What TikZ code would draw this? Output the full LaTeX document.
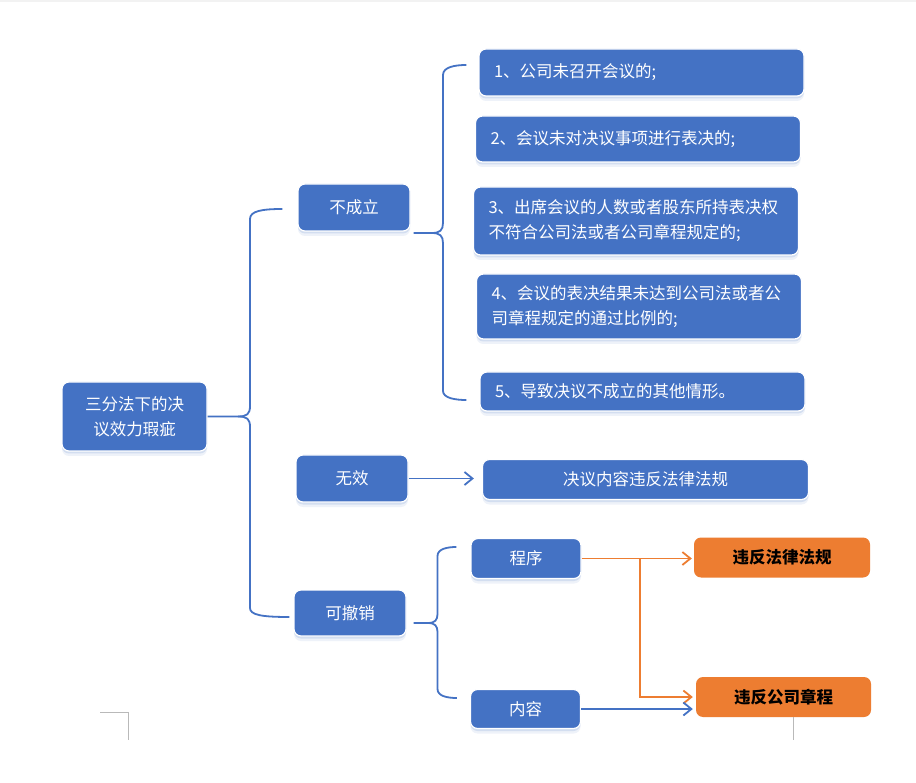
\documentclass[tikz,border=0pt]{standalone}
\usepackage{fontspec}
\setmainfont{Noto Sans CJK SC}
\usetikzlibrary{calc,arrows.meta,shadows}
\definecolor{boxblue}{HTML}{4472C4}
\definecolor{boxorange}{HTML}{ED7D31}
\definecolor{lineblue}{HTML}{4472C4}
\begin{document}
\begin{tikzpicture}[x=1pt,y=-1pt,
  glow/.style={drop shadow={shadow xshift=0pt,shadow yshift=-5pt,fill=boxblue!30,opacity=.3},
               drop shadow={shadow xshift=0pt,shadow yshift=-2.5pt,fill=boxblue!45,opacity=.4}},
  bbox/.style={glow, fill=boxblue, draw=white, line width=1.2pt, rounded corners=7pt,
               text=white, font=\fontsize{16.5}{25}\selectfont, inner sep=0pt, align=center},
  ibox/.style={bbox, align=left, inner xsep=15pt, text width=295pt},
  obox/.style={fill=boxorange, draw=none, rounded corners=7pt, text=black,
               font=\fontsize{16.5}{25}\selectfont\bfseries, inner sep=0pt, align=center},
  bline/.style={draw=lineblue, line width=1.8pt},
  oline/.style={draw=boxorange, line width=1.8pt},
  arrtip/.style={-{Straight Barb[length=8pt,width=13pt]}},
  pagemark/.style={draw=gray!55, line width=0.7pt}
]
\useasboundingbox (0,0) rectangle (916,783);
\fill[white] (0,0) rectangle (916,783);
\fill[gray!10] (0,0) rectangle (916,2.5);

% nodes
\node[bbox, minimum width=145pt, minimum height=69pt] (root) at (134.5,416.5) {三分法下的决\\议效力瑕疵};
\node[bbox, minimum width=112pt, minimum height=47pt] (bcl) at (354,207.5) {不成立};
\node[bbox, minimum width=112pt, minimum height=47pt] (wx) at (352,478.5) {无效};
\node[bbox, minimum width=112pt, minimum height=46pt] (kcx) at (350,613) {可撤销};

\node[ibox, minimum height=47pt] (i1) at (641.5,72.5) {1、公司未召开会议的;};
\node[ibox, minimum height=46pt] (i2) at (638,139) {2、会议未对决议事项进行表决的;};
\node[ibox, minimum height=68pt] (i3) at (636,221) {3、出席会议的人数或者股东所持表决权\\不符合公司法或者公司章程规定的;};
\node[ibox, minimum height=65pt] (i4) at (639,306.5) {4、会议的表决结果未达到公司法或者公\\司章程规定的通过比例的;};
\node[ibox, minimum height=39pt] (i5) at (642.5,391.5) {5、导致决议不成立的其他情形。};

\node[bbox, minimum width=326pt, minimum height=40pt] (jy) at (645.5,479.5) {决议内容违反法律法规};
\node[bbox, minimum width=110pt, minimum height=40pt] (cx) at (526,558.5) {程序};
\node[bbox, minimum width=110pt, minimum height=39pt] (nr) at (525.5,709) {内容};
\node[obox, minimum width=176pt, minimum height=40pt] (o1) at (782,557.5) {违反法律法规};
\node[obox, minimum width=175pt, minimum height=40pt] (o2) at (783.5,697) {违反公司章程};

% root brace
\coordinate (b1t) at ($(bcl.west)+(-15,1.5)$);
\coordinate (b1b) at ($(kcx.west)+(-4,4)$);
\draw[bline] (root.east) -- (238,416.5) .. controls (247,416.5) and (250,414) .. (250,406)
  -- (250,219) .. controls (250,211) and (262,209) .. (b1t);
\draw[bline] (238,416.5) .. controls (247,416.5) and (250,419) .. (250,427)
  -- (250,608) .. controls (250,615) and (262,617) .. (b1b);

% brace of 不成立
\coordinate (b2s) at ($(bcl.south east)+(3,1.5)$);
\coordinate (b2t) at ($(i1.west)+(-12,-7.5)$);
\coordinate (b2b) at ($(i5.west)+(-13,8.5)$);
\draw[bline] (b2s) -- (432,233) .. controls (440,233) and (443,230) .. (443,223)
  -- (443,75) .. controls (443,67) and (455,65) .. (b2t);
\draw[bline] (432,233) .. controls (440,233) and (443,236) .. (443,243)
  -- (443,391) .. controls (443,398) and (455,400) .. (b2b);

% brace of 可撤销
\coordinate (b3s) at ($(kcx.east)+(7,10)$);
\coordinate (b3t) at ($(cx.west)+(-14,-11.5)$);
\coordinate (b3b) at ($(nr.west)+(-13,-11)$);
\draw[bline] (b3s) -- (428,623) .. controls (435,623) and (437.5,620) .. (437.5,614)
  -- (437.5,556) .. controls (437.5,549) and (447,547) .. (b3t);
\draw[bline] (428,623) .. controls (435,623) and (437.5,626) .. (437.5,632)
  -- (437.5,689) .. controls (437.5,696) and (447,698) .. (b3b);

% arrows
\draw[bline, arrtip, shorten >=8pt] (wx.east) -- (wx.east -| jy.west);
\draw[oline, arrtip, shorten >=2pt] (cx.east) -- (cx.east -| o1.west);
\coordinate (br) at (640,558.5);
\draw[oline, arrtip, shorten >=3pt] (br) |- (o2.west);
\draw[bline, arrtip, shorten >=3pt] (nr.east) -- (nr.east -| o2.west);

% page corner marks
\draw[pagemark] (100,712) -- (128,712) -- (128,740);
\draw[pagemark] (793,717) -- (793,740);
\end{tikzpicture}
\end{document}
